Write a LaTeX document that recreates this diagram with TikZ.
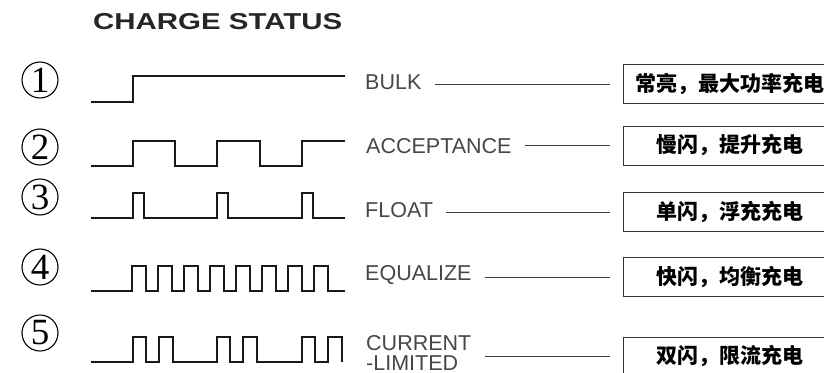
\documentclass[tikz,border=0pt]{standalone}
\usepackage{fontspec}
\newfontfamily\titlefont[FakeStretch=1.28]{Liberation Sans}
\newfontfamily\labfont{Liberation Sans}
\newfontfamily\numfont{Liberation Serif}
\newfontfamily\cjk{Noto Sans CJK SC}
\begin{document}
\begin{tikzpicture}[x=1pt,y=-1pt,
  wave/.style={line width=2pt, draw=black!90, line join=miter},
  circnum/.style={circle, draw=black, line width=1.1pt, minimum size=36pt, inner sep=0pt,
    font=\numfont\fontsize{37}{37}\selectfont},
  lab/.style={anchor=west, inner sep=0pt, text=black!72, align=left,
    font=\labfont\fontsize{21.5}{20}\selectfont},
  statebox/.style={draw=black!80, line width=0.9pt, minimum width=214pt, minimum height=39pt,
    anchor=west, inner sep=0pt, font=\cjk\bfseries\fontsize{21}{21}\selectfont},
  conn/.style={draw=black!75, line width=1pt, shorten <=13pt, shorten >=13pt}]
\clip (0,0) rectangle (824,372);
\fill[white] (0,0) rectangle (824,372);

% title
\node[anchor=base west, inner sep=0pt, text=black!85,
  font=\titlefont\bfseries\fontsize{23}{23}\selectfont] (title) at (93,29) {CHARGE STATUS};

% circled numbers
\node[circnum] (c1) at (40,80) {1};
\node[circnum] (c2) at (40,147) {2};
\node[circnum] (c3) at (40,197) {3};
\node[circnum] (c4) at (40,267) {4};
\node[circnum] (c5) at (40,333) {5};

% waveforms
\draw[wave] (91,102) -- (133,102) -- (133,76) -- (345,76);
\draw[wave] (91,166) -| (133,141) -| (175,166) -| (217,141) -| (260,166) -| (302,141) -- (345,141);
\draw[wave] (91,218) -| (133,193) -| (144,218) -| (217,193) -| (228,218) -| (302,193) -| (313,218) -- (345,218);
\draw[wave] (91,291) foreach \k in {0,...,7} { -| ({132+26*\k},266) -| ({146+26*\k},291) } -- (345,291);
\draw[wave] (91,362) foreach \g in {133,217,302} { -| (\g,337) -| ({\g+13},362) -| ({\g+26},337) -| ({\g+40},362) };

% labels
\node[lab] (l1) at (365,82) {BULK};
\node[lab] (l2) at (366,146) {ACCEPTANCE};
\node[lab] (l3) at (365,210) {FLOAT};
\node[lab] (l4) at (365,275) {EQUALIZE};
\node[lab] (l5) at (366,353) {CURRENT\\-LIMITED};

% state boxes
\node[statebox] (b1) at (623,84) {常亮，最大功率充电};
\node[statebox] (b2) at (623,145.5) {慢闪，提升充电};
\node[statebox] (b3) at (623,212) {单闪，浮充充电};
\node[statebox] (b4) at (623,277) {快闪，均衡充电};
\node[statebox] (b5) at (623,356.5) {双闪，限流充电};

% connectors
\draw[conn] (l1.east |- b1.west) -- (b1.west);
\draw[conn] (l2.east |- b2.west) -- (b2.west);
\draw[conn] (l3.east |- b3.west) -- (b3.west);
\draw[conn] (l4.east |- b4.west) -- (b4.west);
\draw[conn] (l5.east |- b5.west) -- (b5.west);
\end{tikzpicture}
\end{document}
